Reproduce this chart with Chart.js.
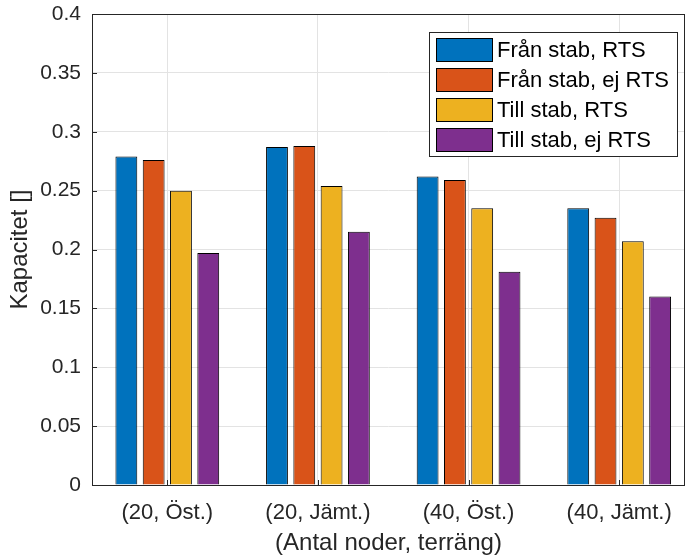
<!DOCTYPE html>
<html>
<head>
<meta charset="utf-8">
<script src="https://cdn.jsdelivr.net/npm/chart.js@4.4.0/dist/chart.umd.min.js"></script>
<style>
  html, body { margin: 0; padding: 0; background: #fff; }
  #wrap { width: 686px; height: 555px; }
</style>
</head>
<body>
<div id="wrap"><canvas id="capacity-chart"></canvas></div>
<script>
const categories = ['(20, Öst.)', '(20, Jämt.)', '(40, Öst.)', '(40, Jämt.)'];
const seriesNames = ['Från stab, RTS', 'Från stab, ej RTS', 'Till stab, RTS', 'Till stab, ej RTS'];
const franRts   = [0.279, 0.287, 0.262, 0.235];
const franEjRts = [0.276, 0.288, 0.259, 0.227];
const tillRts   = [0.250, 0.254, 0.235, 0.207];
const tillEjRts = [0.197, 0.215, 0.181, 0.160];
const yTicks = [0, 0.05, 0.1, 0.15, 0.2, 0.25, 0.3, 0.35, 0.4];

const colors = ['#0072BD', '#D95319', '#EDB120', '#7E2F8E'];
const FONT = "'Liberation Sans', Arial, Helvetica, sans-serif";
const TEXT = '#262626';

function toPoints(values) {
    return values.map((v, i) => ({ x: i + 1, y: v }));
}

// MATLAB-style box, inward ticks and legend
const matlabPlugin = {
    id: 'matlabBox',
    afterDraw(chart) {
        const { ctx, chartArea: a, scales } = chart;
        ctx.save();
        ctx.strokeStyle = TEXT;
        ctx.lineWidth = 1;
        ctx.beginPath();
        yTicks.forEach(t => {
            const y = Math.round(scales.y.getPixelForValue(t)) + 0.5;
            ctx.moveTo(a.left, y);
            ctx.lineTo(a.left + 5, y);
        });
        categories.forEach((c, i) => {
            const x = Math.round(scales.x.getPixelForValue(i + 1)) + 0.5;
            ctx.moveTo(x, a.bottom);
            ctx.lineTo(x, a.bottom - 5);
        });
        ctx.stroke();
        ctx.strokeRect(Math.round(a.left) + 0.5, Math.round(a.top) + 0.5,
            Math.round(a.right - a.left) - 1, Math.round(a.bottom - a.top));

        // legend
        const lx = 429.5, ly = 32.5, lw = 248, lh = 124;
        ctx.fillStyle = '#fff';
        ctx.fillRect(lx, ly, lw, lh);
        ctx.strokeStyle = TEXT;
        ctx.strokeRect(lx, ly, lw, lh);
        ctx.font = '22px ' + FONT;
        ctx.textBaseline = 'middle';
        ctx.textAlign = 'left';
        chart.data.datasets.forEach((ds, i) => {
            const ry = 38.5 + i * 30;
            ctx.fillStyle = ds.backgroundColor;
            ctx.fillRect(436.5, ry, 56, 23);
            ctx.strokeStyle = '#000';
            ctx.strokeRect(436.5, ry, 56, 23);
            ctx.fillStyle = '#000';
            ctx.fillText(ds.label, 497, ry + 12);
        });
        ctx.restore();
    }
};

const ctx = document.getElementById('capacity-chart').getContext('2d');
const allSeries = [franRts, franEjRts, tillRts, tillEjRts];

new Chart(ctx, {
    type: 'bar',
    data: {
        datasets: allSeries.map((vals, i) => ({
            label: seriesNames[i],
            data: toPoints(vals),
            backgroundColor: colors[i],
            borderColor: '#000',
            borderWidth: 1,
            borderSkipped: 'bottom',
            categoryPercentage: 0.725,
            barPercentage: 0.8
        }))
    },
    options: {
        responsive: true,
        maintainAspectRatio: false,
        animation: false,
        layout: { padding: { left: 0, right: 1, top: 14, bottom: 0 } },
        scales: {
            x: {
                type: 'linear',
                min: 0.5,
                max: 4.437,
                offset: false,
                afterBuildTicks: scale => {
                    scale.ticks = categories.map((c, i) => ({ value: i + 1 }));
                },
                afterFit: scale => {
                    scale.height = 70;
                    scale.paddingLeft = 0;
                    scale.paddingRight = 0;
                },
                ticks: {
                    color: TEXT,
                    font: { family: FONT, size: 22 },
                    padding: 15,
                    maxRotation: 0,
                    autoSkip: false,
                    callback: v => categories[v - 1]
                },
                grid: { color: '#e3e3e3', drawTicks: false, tickLength: 0, offset: false },
                border: { display: false },
                title: {
                    display: true,
                    text: '(Antal noder, terräng)',
                    color: TEXT,
                    font: { family: FONT, size: 24, lineHeight: 1 },
                    padding: { top: 0, bottom: 0 }
                }
            },
            y: {
                min: 0,
                max: 0.4,
                afterBuildTicks: scale => {
                    scale.ticks = yTicks.map(v => ({ value: v }));
                },
                afterFit: scale => {
                    scale.width = 92;
                    scale.paddingTop = 0;
                    scale.paddingBottom = 0;
                },
                ticks: {
                    color: TEXT,
                    font: { family: FONT, size: 21 },
                    padding: 11,
                    callback: v => String(+v.toFixed(2))
                },
                grid: { color: '#e3e3e3', drawTicks: false, tickLength: 0 },
                border: { display: false },
                title: {
                    display: true,
                    text: 'Kapacitet []',
                    color: TEXT,
                    font: { family: FONT, size: 24, lineHeight: 1.2 },
                    padding: { top: 6, bottom: 0 }
                }
            }
        },
        plugins: {
            legend: { display: false },
            tooltip: { enabled: false }
        }
    },
    plugins: [matlabPlugin]
});
</script>
</body>
</html>
